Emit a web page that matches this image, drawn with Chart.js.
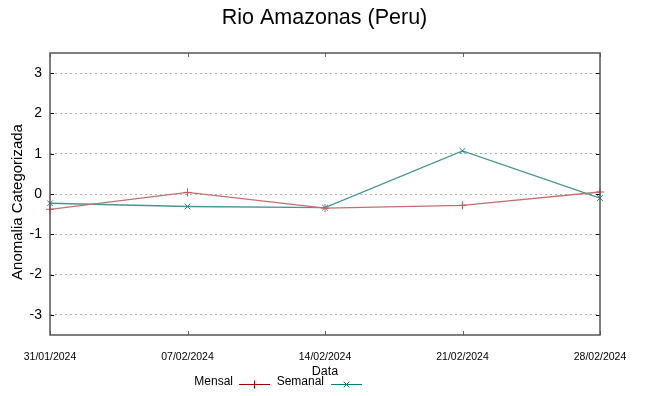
<!DOCTYPE html>
<html>
<head>
<meta charset="utf-8">
<script src="https://cdn.jsdelivr.net/npm/chart.js@4/dist/chart.umd.min.js"></script>
<style>
  html, body { margin: 0; padding: 0; background: #fff; }
  #wrap { width: 649px; height: 396px; }
</style>
</head>
<body>
<div id="wrap"><canvas id="chart"></canvas></div>
<script>
// datas e valores
const dates = ['31/01/2024', '07/02/2024', '14/02/2024', '21/02/2024', '28/02/2024'];
const mensal = [-0.38, 0.04, -0.35, -0.28, 0.05];
const semanal = [-0.23, -0.31, -0.34, 1.07, -0.10];
const yTicks = [-3, -2, -1, 0, 1, 2, 3];

const regular = '"Liberation Sans", Arial, sans-serif';

// moldura, marcas de escala internas, titulo do eixo y e legenda estilo gnuplot
const framePlugin = {
  id: 'frame',
  afterDatasetsDraw(chart) {
    const { ctx, chartArea: a, scales } = chart;
    ctx.save();
    ctx.strokeStyle = '#000';
    ctx.lineWidth = 1;
    ctx.beginPath();
    scales.y.ticks.forEach((t) => {
      const y = Math.round(scales.y.getPixelForValue(t.value)) + 0.5;
      ctx.moveTo(a.left, y); ctx.lineTo(a.left + 4, y);
      ctx.moveTo(a.right, y); ctx.lineTo(a.right - 4, y);
    });
    ctx.stroke();
    ctx.strokeStyle = '#666';
    ctx.beginPath();
    scales.x.ticks.forEach((t, i) => {
      const x = Math.round(scales.x.getPixelForTick(i)) + 0.5;
      ctx.moveTo(x, a.bottom); ctx.lineTo(x, a.bottom - 4);
      ctx.moveTo(x, a.top); ctx.lineTo(x, a.top + 4);
    });
    ctx.stroke();
    ctx.strokeStyle = '#555';
    ctx.lineWidth = 1.5;
    ctx.strokeRect(a.left, a.top, a.right - a.left, a.bottom - a.top);

    // titulo do eixo y
    ctx.fillStyle = '#000';
    ctx.font = '15px ' + regular;
    ctx.textAlign = 'center';
    ctx.textBaseline = 'middle';
    ctx.save();
    ctx.translate(18, 202);
    ctx.rotate(-Math.PI / 2);
    ctx.fillText('Anomalia Categorizada', 0, 0);
    ctx.restore();

    // legenda: texto a esquerda, amostra a direita
    const items = [
      { text: 'Mensal', textRight: 233, x0: 239, x1: 270, ds: chart.data.datasets[0] },
      { text: 'Semanal', textRight: 324, x0: 331, x1: 362, ds: chart.data.datasets[1] }
    ];
    const ly = 384;
    ctx.font = '12px ' + regular;
    ctx.textAlign = 'right';
    items.forEach((it) => {
      ctx.fillStyle = '#000';
      ctx.fillText(it.text, it.textRight, ly - 2);
      ctx.strokeStyle = it.ds.legendColor;
      ctx.lineWidth = 1;
      ctx.beginPath();
      ctx.moveTo(it.x0, ly + 0.5); ctx.lineTo(it.x1, ly + 0.5);
      ctx.stroke();
      Chart.helpers.drawPoint(ctx, {
        pointStyle: it.ds.pointStyle, radius: 4, borderWidth: 1
      }, (it.x0 + it.x1) / 2, ly + 0.5);
    });
    ctx.restore();
  }
};

new Chart(document.getElementById('chart'), {
  type: 'line',
  data: {
    labels: dates,
    datasets: [
      {
        label: 'Mensal',
        data: mensal,
        borderColor: 'rgb(196,112,112)',
        legendColor: '#a00000',
        backgroundColor: 'rgb(196,112,112)',
        pointBorderColor: 'rgb(190,90,90)',
        borderWidth: 1.3,
        pointStyle: 'cross',
        pointRadius: 4,
        pointBorderWidth: 1,
        tension: 0,
        fill: false
      },
      {
        label: 'Semanal',
        data: semanal,
        borderColor: 'rgb(70,150,150)',
        legendColor: '#008080',
        backgroundColor: 'rgb(70,150,150)',
        pointBorderColor: 'rgb(40,130,130)',
        borderWidth: 1.3,
        pointStyle: 'crossRot',
        pointRadius: 4,
        pointBorderWidth: 1,
        tension: 0,
        fill: false
      }
    ]
  },
  options: {
    responsive: true,
    maintainAspectRatio: false,
    animation: false,
    layout: { padding: 0 },
    plugins: {
      legend: { display: false },
      tooltip: { enabled: false },
      title: {
        display: true,
        text: 'Rio Amazonas (Peru)',
        color: '#000',
        font: { family: regular, size: 21.5, weight: 'normal', lineHeight: 1.2 },
        padding: { top: 5, bottom: 22.2 }
      }
    },
    scales: {
      x: {
        type: 'category',
        offset: false,
        grid: { display: false, drawTicks: false },
        border: { display: false },
        ticks: {
          color: '#000',
          font: { family: regular, size: 10.5 },
          padding: 16,
          maxRotation: 0,
          autoSkip: false
        },
        title: {
          display: true,
          text: 'Data',
          color: '#000',
          font: { family: regular, size: 12.5, lineHeight: 1.2 },
          padding: { top: 0, bottom: 17 }
        },
        afterFit: (s) => { s.height = 61; }
      },
      y: {
        min: -3.5,
        max: 3.5,
        afterBuildTicks: (s) => { s.ticks = yTicks.map((v) => ({ value: v })); },
        grid: {
          drawTicks: false,
          color: '#b0b0b0',
          lineWidth: 1
        },
        border: { display: false, dash: [2, 3] },
        ticks: {
          color: '#000',
          font: { family: regular, size: 14 },
          padding: 8
        },
        afterFit: (s) => { s.width = 50; }
      },
      yRight: {
        position: 'right',
        grid: { display: false, drawTicks: false },
        border: { display: false },
        ticks: { display: false },
        afterFit: (s) => { s.width = 49; }
      }
    }
  },
  plugins: [framePlugin]
});
</script>
</body>
</html>
